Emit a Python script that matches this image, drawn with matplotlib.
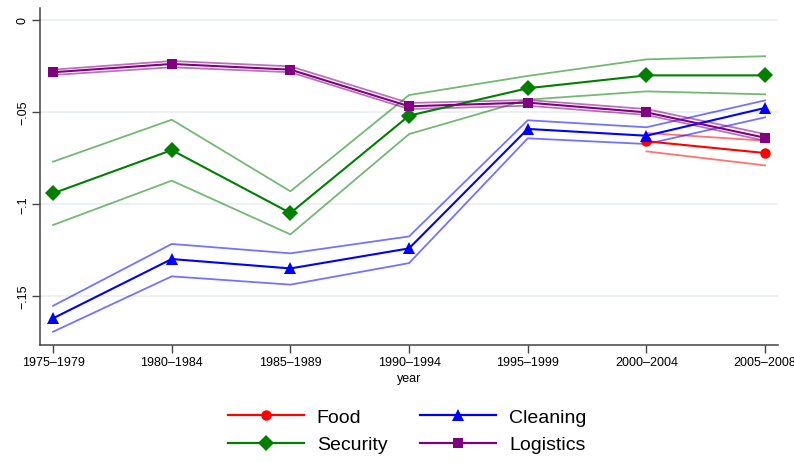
import matplotlib
matplotlib.use("Agg")
import matplotlib.pyplot as plt
from matplotlib.lines import Line2D
import numpy as np

periods = ["1975\u20131979", "1980\u20131984", "1985\u20131989", "1990\u20131994",
           "1995\u20131999", "2000\u20132004", "2005\u20132008"]

# point estimates and 95% band per sector
food = [None, None, None, None, None, -0.0659, -0.0723]
food_lo = [None, None, None, None, None, -0.0714, -0.0790]
food_hi = [None, None, None, None, None, -0.0614, -0.0656]

cleaning = [-0.1621, -0.1299, -0.1350, -0.1241, -0.0592, -0.0629, -0.0478]
cleaning_lo = [-0.1694, -0.1393, -0.1438, -0.1321, -0.0643, -0.0674, -0.0529]
cleaning_hi = [-0.1553, -0.1217, -0.1268, -0.1176, -0.0545, -0.0583, -0.0437]

security = [-0.0942, -0.0707, -0.1049, -0.0520, -0.0371, -0.0301, -0.0301]
security_lo = [-0.1114, -0.0873, -0.1165, -0.0620, -0.0433, -0.0388, -0.0404]
security_hi = [-0.0770, -0.0542, -0.0931, -0.0408, -0.0304, -0.0214, -0.0197]

logistics = [-0.0284, -0.0239, -0.0270, -0.0469, -0.0449, -0.0502, -0.0640]
logistics_lo = [-0.0299, -0.0257, -0.0284, -0.0484, -0.0466, -0.0516, -0.0656]
logistics_hi = [-0.0270, -0.0223, -0.0252, -0.0451, -0.0435, -0.0484, -0.0620]

yticks = [0, -0.05, -0.1, -0.15]
ytick_labels = ["0", "\u2212.05", "\u2212.1", "\u2212.15"]

plt.rcParams["font.family"] = ["Liberation Sans Narrow", "Liberation Sans", "DejaVu Sans"]

fig = plt.figure(figsize=(7.94, 4.64), dpi=100)
ax = fig.add_axes([0.0504, 0.2543, 0.9296, 0.7263])

x = np.arange(len(periods))


def series(vals):
    xs = [xi for xi, v in zip(x, vals) if v is not None]
    ys = [v for v in vals if v is not None]
    return xs, ys


groups = [
    (food, food_lo, food_hi, "#ff0000", "o", 7.5, "Food"),
    (cleaning, cleaning_lo, cleaning_hi, "#0000ff", "^", 9, "Cleaning"),
    (security, security_lo, security_hi, "#007f00", "D", 8, "Security"),
    (logistics, logistics_lo, logistics_hi, "#800080", "s", 7.5, "Logistics"),
]

for est, lo, hi, col, mk, ms, name in groups:
    for band in (lo, hi):
        bx, by = series(band)
        ax.plot(bx, by, color=col, lw=1.3, alpha=0.55, zorder=2)
    ex, ey = series(est)
    ax.plot(ex, ey, color=col, lw=1.5, marker=mk, ms=ms, markeredgewidth=0, zorder=3)

ax.set_xlim(-0.11, 6.11)
ax.set_ylim(-0.1766, 0.0065)
ax.set_xticks(x)
ax.set_xticklabels(periods, fontsize=9)
ax.set_yticks(yticks)
ax.set_yticklabels(ytick_labels, fontsize=9, rotation=90, va="center")
ax.set_xlabel("year", fontsize=9, labelpad=3)

ax.grid(axis="y", color="#e8eff3", lw=1.2, zorder=0)
ax.set_axisbelow(True)
for s in ("top", "right"):
    ax.spines[s].set_visible(False)
for s in ("left", "bottom"):
    ax.spines[s].set_color("#444444")
    ax.spines[s].set_linewidth(1.1)
ax.tick_params(axis="both", direction="out", length=6, width=1, color="#444444", pad=2)

handles = [
    Line2D([], [], color=g[3], lw=1.6, marker=g[4], ms=g[5], markeredgewidth=0, label=g[6])
    for g in groups
]
# row-wise order: Food, Cleaning / Security, Logistics
order = [handles[0], handles[2], handles[1], handles[3]]
fig.legend(handles=order, loc="center", bbox_to_anchor=(0.513, 0.069), ncol=2,
           frameon=False, handlelength=3.9, columnspacing=1.7,
           handletextpad=0.67, labelspacing=0.5,
           prop={"family": ["Liberation Sans", "DejaVu Sans"], "size": 14})

fig.savefig("out.png", dpi=100)
